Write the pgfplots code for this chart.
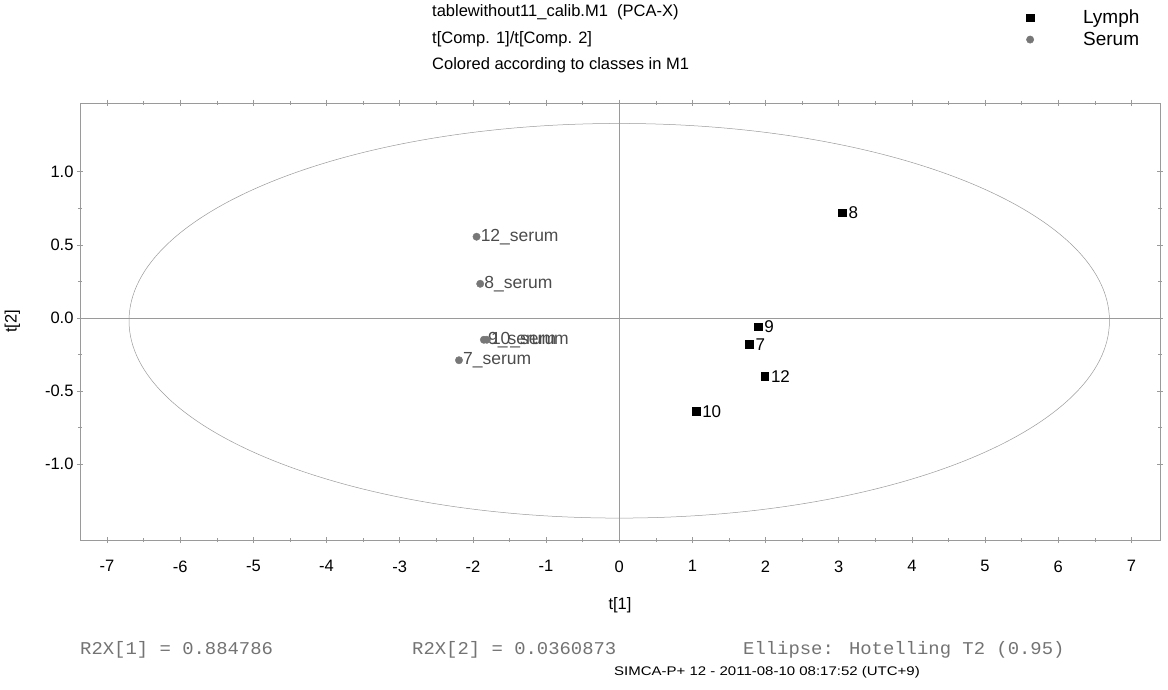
\documentclass[border=0pt]{standalone}
\usepackage{pgfplots}
\pgfplotsset{compat=1.18}
\usepackage{fontspec}
\setmainfont{Liberation Sans}
\newfontfamily\monof{Liberation Mono}
\definecolor{serumgray}{HTML}{777777}
\definecolor{framegray}{HTML}{9A9A9A}
\begin{document}
\begin{tikzpicture}[x=1pt,y=1pt]
\useasboundingbox (0,0) rectangle (1168,689);
\begin{axis}[
  at={(80pt,149pt)}, anchor=south west,
  scale only axis, width=1080pt, height=437pt,
  xmin=-7.37, xmax=7.39, ymin=-1.52, ymax=1.47,
  xtick={-7,-6,...,7}, ytick={-1,-0.5,0,0.5,1},
  minor x tick num=1, minor y tick num=1,
  yticklabel style={/pgf/number format/fixed,/pgf/number format/fixed zerofill,/pgf/number format/precision=1},
  /pgf/number format/assume math mode=true,
  axis line style={framegray, line width=0.6pt},
  tick style={framegray, line width=0.5pt},
  major tick length=6pt, minor tick length=4pt,
  tick align=center,
  tick label style={font=\fontsize{16.5}{19}\selectfont},
  xticklabel style={yshift=-14pt},
  xlabel={t[1]}, ylabel={t[2]},
  label style={font=\fontsize{16.5}{19}\selectfont},
  xlabel style={yshift=-18pt},
  ylabel style={yshift=18pt},
  clip=false,
  legend style={at={(0.8685,1.218)}, anchor=north west, draw=none, fill=none,
    font=\fontsize{19}{21}\selectfont, row sep=3pt, inner sep=0pt},
  legend cell align=left,
  legend image code/.code={\path[draw=none,fill=none] (0pt,-3pt) rectangle (63pt,3pt); \draw[#1] plot coordinates {(12pt,0pt)};},
]
% reference lines and ellipse
\draw[framegray, line width=0.5pt] (axis cs:0,-1.52) -- (axis cs:0,1.47);
\draw[framegray, line width=0.5pt] (axis cs:-7.37,0) -- (axis cs:7.39,0);
\draw[framegray, line width=0.5pt] (axis cs:0,-0.02) ellipse [x radius=6.70, y radius=1.35];
% Lymph
\addplot[only marks, mark=square*, mark size=3.8pt, black,
  nodes near coords, point meta=explicit symbolic,
  every node near coord/.style={anchor=west, font=\fontsize{17}{19}\selectfont, black, inner sep=0pt, xshift=6pt}]
  table[meta=label] {
x y label
3.05 0.72 8
1.90 -0.06 9
1.78 -0.18 7
1.99 -0.40 12
1.05 -0.64 10
};
\addlegendentry{Lymph}
% Serum
\addplot[only marks, mark=*, mark size=3.7pt, serumgray,
  nodes near coords, point meta=explicit symbolic,
  every node near coord/.style={anchor=west, font=\fontsize{17.5}{19}\selectfont, black!70, inner sep=0pt, xshift=4pt}]
  table[meta=label] {
x y label
-1.95 0.555 12\_serum
-1.90 0.233 8\_serum
-1.85 -0.15 9\_serum
-1.81 -0.15 10\_serum
-2.19 -0.29 7\_serum
};
\addlegendentry{Serum}
\end{axis}
% titles
\node[anchor=west, inner sep=0pt, font=\fontsize{16.5}{19}\selectfont] at (432,677) {tablewithout11\_calib.M1\ \ (PCA-X)};
\node[anchor=west, inner sep=0pt, font=\fontsize{16.5}{19}\selectfont] at (432,650) {t[Comp. 1]/t[Comp. 2]};
\node[anchor=west, inner sep=0pt, font=\fontsize{16.5}{19}\selectfont] at (432,624) {Colored according to classes in M1};
% footers
\node[anchor=west, text=black!55, inner sep=0pt] at (80,39) {\scalebox{1.05}[1]{\monof\fontsize{18}{20}\selectfont R2X[1] = 0.884786}};
\node[anchor=west, text=black!55, inner sep=0pt] at (412,39) {\scalebox{1.05}[1]{\monof\fontsize{18}{20}\selectfont R2X[2] = 0.0360873}};
\node[anchor=west, text=black!55, inner sep=0pt] at (743,39) {\scalebox{1.05}[1]{\monof\fontsize{18}{20}\selectfont Ellipse: Hotelling T2 (0.95)}};
\node[anchor=center, inner sep=0pt, font=\fontsize{12.5}{14}\selectfont] at (767,17) {\scalebox{1.2}[1]{SIMCA-P+ 12 - 2011-08-10 08:17:52 (UTC+9)}};
\end{tikzpicture}
\end{document}
